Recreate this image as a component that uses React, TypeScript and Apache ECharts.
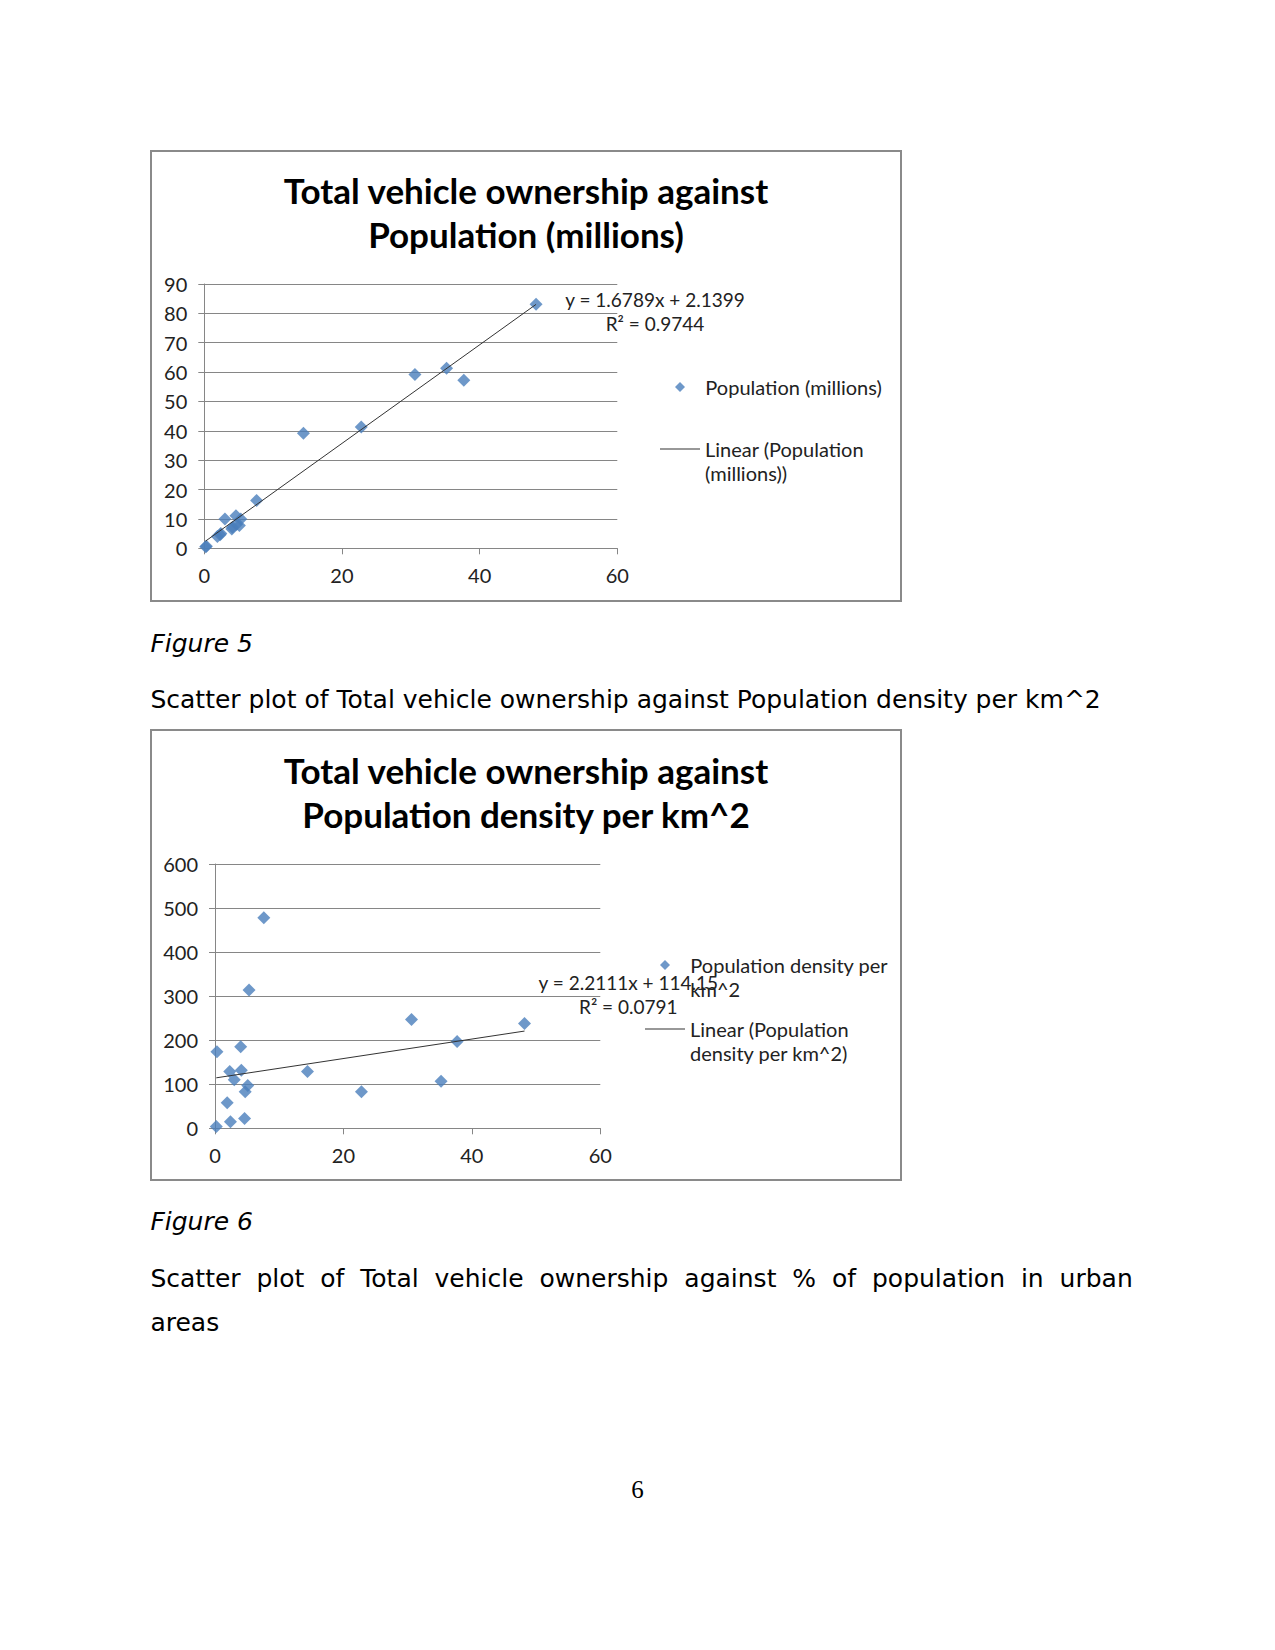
import React, { useEffect, useRef } from "react";
import * as echarts from "echarts";

// Shared x values: Total vehicle ownership
const ownership = [0.2, 0.3, 1.9, 2.3, 2.4, 3.0, 4.0, 4.1, 4.6, 4.7, 5.1, 5.3, 7.6, 14.4, 22.8, 30.6, 35.2, 37.7, 48.2];
// Figure 5 y values: Population (millions)
const populationMillions = [0.5, 0.7, 4.0, 4.6, 5.0, 10.0, 6.6, 7.2, 11.1, 8.2, 7.8, 10.0, 16.3, 39.2, 41.3, 59.2, 61.3, 57.2, 83.1];
// Figure 6 y values: Population density per km^2
const densityPerKm2 = [4, 174, 58, 129, 15, 110, 185, 132, 22, 83, 97, 314, 478, 129, 83, 247, 107, 197, 238];

// Trendline coefficients as printed on the charts
const trend1 = { slope: 1.6789, intercept: 2.1399, r2: "0.9744" };
const trend2 = { slope: 2.2111, intercept: 114.15, r2: "0.0791" };

// Axis scales
const xScale = { min: 0, max: 60, interval: 20 };
const yScale1 = { min: 0, max: 90, interval: 10 };
const yScale2 = { min: 0, max: 600, interval: 100 };

const titles = [
  "Total vehicle ownership against\nPopulation (millions)",
  "Total vehicle ownership against\nPopulation density per km^2",
];
const seriesNames = [
  "Population (millions)",
  "Linear (Population\n(millions))",
  "Population density per\nkm^2",
  "Linear (Population\ndensity per km^2)",
];

const CAL = "Lato";
const LABEL_SIZE = 20;
const EQ_SIZE = 19;
const TITLE_SIZE = 35;
const DOC_FONT = "DejaVu Sans";
const DOC_SIZE = 25;
const GRID_COLOR = "#868686";
const MARKER = "#4A7EBB";
const TREND = "#333333";
const INDENT = "\u00A0\u00A0\u00A0";

function pairs(xs: number[], ys: number[]) {
  return xs.map((x, i) => [x, ys[i]]);
}
function trendData(xs: number[], t: { slope: number; intercept: number }) {
  const lo = Math.min(...xs);
  const hi = Math.max(...xs);
  return [
    [lo, t.slope * lo + t.intercept],
    [hi, t.slope * hi + t.intercept],
  ];
}

function xAxis(gridIndex: number) {
  return {
    type: "value",
    gridIndex,
    ...xScale,
    axisLine: { show: true, onZero: false, lineStyle: { color: GRID_COLOR, width: 1 } },
    axisTick: { show: true, length: 6, lineStyle: { color: GRID_COLOR } },
    splitLine: { show: false },
    axisLabel: { margin: 17, fontFamily: CAL, fontSize: LABEL_SIZE, color: "#222" },
  };
}
function yAxis(gridIndex: number, scale: any) {
  return {
    type: "value",
    gridIndex,
    ...scale,
    axisLine: { show: true, onZero: false, lineStyle: { color: GRID_COLOR, width: 1 } },
    axisTick: { show: true, length: 6, lineStyle: { color: GRID_COLOR } },
    splitLine: { show: true, lineStyle: { color: GRID_COLOR, width: 1 } },
    axisLabel: { margin: 17, fontFamily: CAL, fontSize: LABEL_SIZE, color: "#222" },
  };
}

const legendText = { fontFamily: CAL, fontSize: LABEL_SIZE, color: "#222", lineHeight: 24 };

// Marker legend: small diamond icon; text indented to line up with the line-legend text
function markerLegend(name: string, left: number, top: number, multiLine: boolean) {
  return {
    data: [{ name, icon: "diamond" }],
    left,
    top,
    orient: "vertical",
    itemWidth: 10,
    itemHeight: 10,
    padding: 0,
    selectedMode: false,
    formatter: (n: string) => {
      const body = n.split("\n").map((l) => INDENT + l).join("\n");
      return multiLine ? "\n" + body : body;
    },
    textStyle: legendText,
  };
}
// Trendline legend: a thin 40px line; a blank first line keeps the icon level with the first text line
function lineLegend(name: string, left: number, top: number) {
  return {
    data: [{ name, icon: "rect" }],
    left,
    top,
    orient: "vertical",
    itemWidth: 40,
    itemHeight: 1,
    padding: 0,
    selectedMode: false,
    formatter: (n: string) => "\n" + n,
    textStyle: legendText,
  };
}

function docText(text: string, x: number, y: number, extra: any = {}) {
  return {
    type: "text",
    x,
    y,
    silent: true,
    style: {
      text,
      fontFamily: DOC_FONT,
      fontSize: DOC_SIZE,
      fill: "#000",
      verticalAlign: "middle",
      ...extra,
    },
  };
}

export default function App() {
  const ref = useRef<HTMLDivElement>(null);
  useEffect(() => {
    if (!ref.current) return;
    const chart = echarts.init(ref.current, undefined, { renderer: "svg" });
    const option: any = {
      animation: false,
      backgroundColor: "#ffffff",
      title: titles.map((t, i) => ({
        text: t,
        left: 526,
        top: i === 0 ? 168.4 : 748,
        textAlign: "center",
        padding: 0,
        textStyle: { fontFamily: CAL, fontWeight: "bold", fontSize: TITLE_SIZE, lineHeight: 44, color: "#000" },
      })),
      grid: [
        { left: 204.3, top: 284, width: 413, height: 264.3, containLabel: false, outerBoundsMode: "none" },
        { left: 215, top: 864, width: 385.3, height: 264.3, containLabel: false, outerBoundsMode: "none" },
      ],
      xAxis: [xAxis(0), xAxis(1)],
      yAxis: [yAxis(0, yScale1), yAxis(1, yScale2)],
      legend: [
        markerLegend(seriesNames[0], 675, 375, false),
        lineLegend(seriesNames[1], 660, 413),
        markerLegend(seriesNames[2], 660, 929, true),
        lineLegend(seriesNames[3], 645, 993),
      ],
      series: [
        {
          name: seriesNames[0],
          type: "scatter",
          xAxisIndex: 0,
          yAxisIndex: 0,
          symbol: "diamond",
          symbolSize: 13,
          itemStyle: { color: MARKER },
          data: pairs(ownership, populationMillions),
        },
        {
          name: seriesNames[1],
          type: "line",
          xAxisIndex: 0,
          yAxisIndex: 0,
          symbol: "none",
          lineStyle: { color: TREND, width: 1 },
          itemStyle: { color: TREND },
          data: trendData(ownership, trend1),
        },
        {
          name: seriesNames[2],
          type: "scatter",
          xAxisIndex: 1,
          yAxisIndex: 1,
          symbol: "diamond",
          symbolSize: 13,
          itemStyle: { color: MARKER },
          data: pairs(ownership, densityPerKm2),
        },
        {
          name: seriesNames[3],
          type: "line",
          xAxisIndex: 1,
          yAxisIndex: 1,
          symbol: "none",
          lineStyle: { color: TREND, width: 1 },
          itemStyle: { color: TREND },
          data: trendData(ownership, trend2),
        },
      ],
      graphic: [
        { type: "rect", silent: true, z: -10, shape: { x: 151, y: 151, width: 750, height: 450 }, style: { fill: "none", stroke: "#8a8a8a", lineWidth: 2 } },
        { type: "rect", silent: true, z: -10, shape: { x: 151, y: 730, width: 750, height: 450 }, style: { fill: "none", stroke: "#8a8a8a", lineWidth: 2 } },
        {
          type: "text",
          x: 655,
          y: 287.5,
          silent: true,
          style: {
            text: `y = ${trend1.slope}x + ${trend1.intercept}\nR² = ${trend1.r2}`,
            fontFamily: CAL,
            fontSize: EQ_SIZE,
            lineHeight: 24,
            fill: "#222",
            align: "center",
            verticalAlign: "top",
          },
        },
        {
          type: "text",
          x: 628.3,
          y: 970,
          silent: true,
          style: {
            text: `y = ${trend2.slope}x + ${trend2.intercept}\nR² = ${trend2.r2}`,
            fontFamily: CAL,
            fontSize: EQ_SIZE,
            lineHeight: 24,
            fill: "#222",
            align: "center",
            verticalAlign: "top",
          },
        },
        docText("Figure 5", 150.4, 643, { fontStyle: "italic" }),
        docText("Scatter plot of Total vehicle ownership against Population density per km^2", 150.4, 699.6),
        docText("Figure 6", 150.4, 1221, { fontStyle: "italic" }),
        docText(
          "Scatter \u00A0plot \u00A0of \u00A0Total \u00A0vehicle \u00A0ownership \u00A0against \u00A0% \u00A0of \u00A0population \u00A0in \u00A0urban",
          150.4,
          1278
        ),
        docText("areas", 150.4, 1322),
        docText("6", 637.5, 1489, { fontFamily: "Liberation Serif", align: "center" }),
      ],
    };
    chart.setOption(option);
    return () => chart.dispose();
  }, []);
  return <div ref={ref} style={{ position: "absolute", left: 0, top: 0, width: 1275, height: 1650 }} />;
}
